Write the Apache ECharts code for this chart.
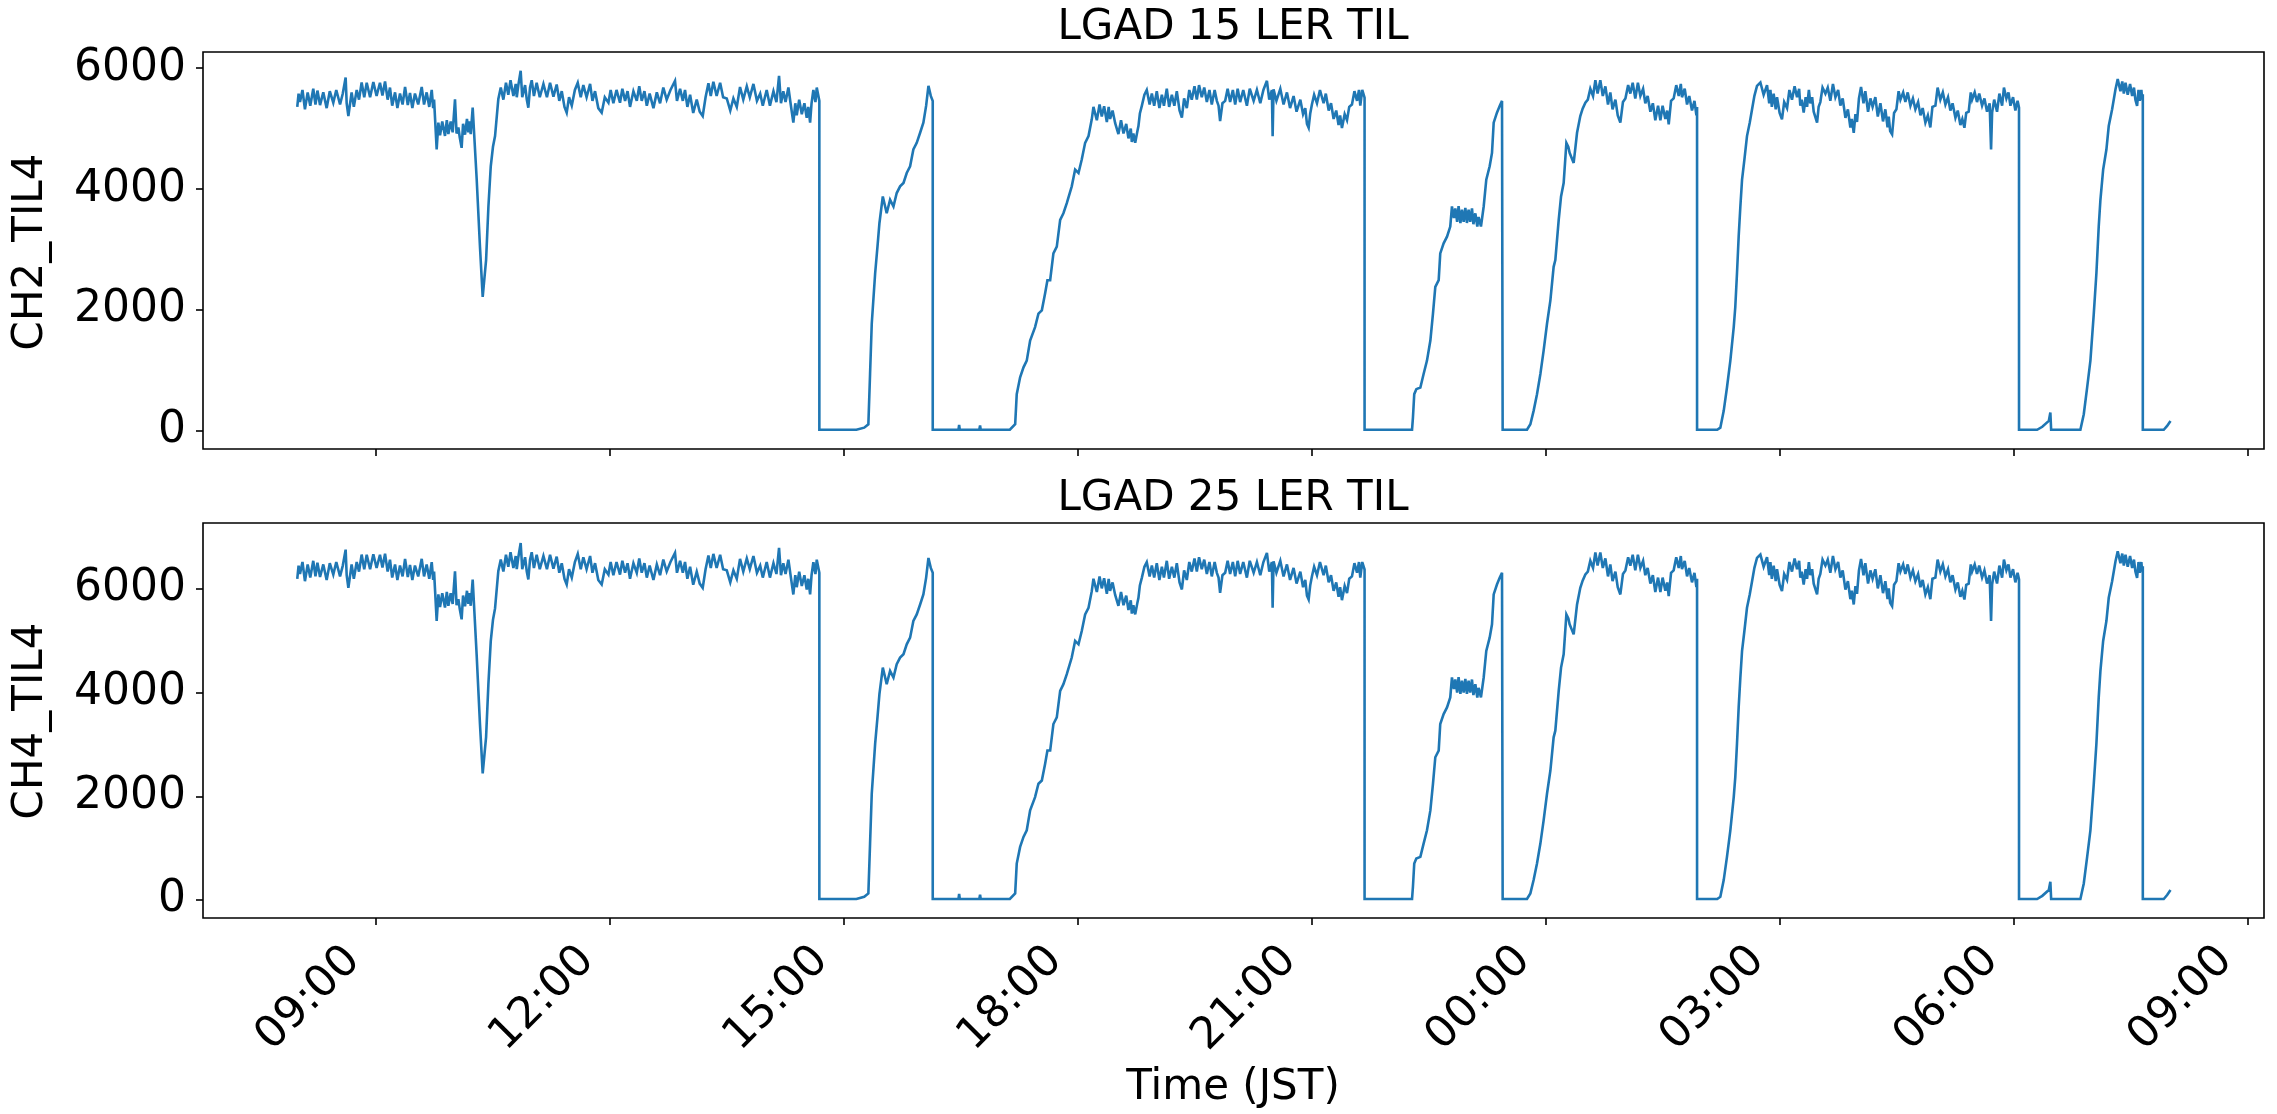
<!DOCTYPE html>
<html>
<head>
<meta charset="utf-8">
<script src="https://cdn.jsdelivr.net/npm/echarts@6/dist/echarts.min.js"></script>
<style>
html,body{margin:0;padding:0;background:#fff;}
#chart{width:2277px;height:1114px;}
</style>
</head>
<body>
<div id="chart"></div>
<script>
// Time in minutes after 08:00 (JST) of the first day
const minutes = [
0,1,2.1,4,5.9,8,10,12.3,14,15.5,
17.5,20,22.6,25,27.7,30,32.9,35,37.2,38,
39.3,41.8,43.5,45.7,47.5,49.5,51.5,53.4,56,58.5,
61,63.6,65.5,67.5,69.5,71.3,73,75.2,77,79,
81,82.9,85,86.7,88.5,90.5,93,95.7,97.5,99.5,
101.5,103.4,104.5,105.2,106,107.2,108.5,109.8,111.5,113.6,
115,116.2,118,119.5,121.3,122.5,123.9,125,126.4,127.5,
129,130.5,131.6,132.5,133.4,134.9,138,140.5,142.6,145.2,
147,148.8,150.5,152.1,154.6,156.5,158.5,160.5,162.3,164,
166.2,168,168.8,170,171.8,173,175.2,176.5,177.7,179,
180.3,182,184.1,186.5,189.3,192,194.4,197,199.5,201.5,
203.4,205.5,207.2,209,211.1,213.5,215.7,218,220,222.5,
225.2,227,229,231.5,234.1,236.5,239.3,241,243.1,245.5,
248.2,250,252.1,254,255.9,258.5,261.1,263,264.9,267,
268.8,271,273.9,276.5,279,281.5,284.1,287,290.5,292,
294.4,296.5,298.2,300,302.1,304.5,307.2,309.5,311.8,314,
316.2,318,320,322.5,325.2,327.5,330.3,333,335.4,338,
340.5,343,345.7,348,350.8,353.5,356,358,361,363.5,
366.2,368.5,370.5,372,373.8,375.5,377.7,379.5,381.5,383,
384.1,386,388,390,391.8,393,394.4,395.5,396.9,398.5,
399.5,401.5,401.5,430,436,439.2,440.5,441.8,444.4,446.2,
447.7,450.3,452.1,453.3,455.9,458.5,461,463.6,466.2,468.7,
471.3,473.8,476.4,479,481.5,483.6,485.4,487.2,488.7,488.7,
508.5,509,509.5,524.5,525.1,525.6,548,552.1,553.3,555.9,
558.5,561,563.6,567.4,570,572.6,575.1,576.9,579,581.5,
584.1,586.7,589.2,591.8,595.6,598.2,600.8,603.3,605.9,608.5,
611,612.3,614.9,617,618.7,620.5,622.6,624,625.1,627,
629,630.5,631.5,633.5,635.4,637.5,639.2,641,641.8,643,
644.4,646,646.9,648,649.5,651.5,653.3,655.5,657.2,659,
661,663,664.9,666.5,668.7,670.5,672.6,674.5,676.4,678.5,
680.3,682,684.1,686,687.9,690,691.8,693.5,695.6,697.5,
699.5,701.5,703.3,705.5,707.2,708.5,709.7,711.5,713.6,715.5,
717.4,719.5,721.3,723.2,725.1,727.5,730.3,732.5,735.5,738,
740.6,743,745.7,747.5,749.5,750.1,750.8,753,756,758.5,
761.1,763.5,766.2,768.5,771.4,773.5,775.2,776.5,777.8,779,
780.3,782,784.2,786.5,789.3,791,793.2,795,797,799,
800.8,802,803.4,805.5,807.3,809,811.1,813,815,816.5,
817.5,819,820.8,820.8,857.3,858,859,860.6,863.7,866.2,
868.8,871.4,873.4,875.2,877.8,879,881.6,884.2,886.7,888,
889.5,890.6,892,893.1,894.5,895.7,897,898.3,899.5,900.8,
902,903.4,904.5,906,907.5,908.5,910.3,912.4,914.4,917,
918.8,920.1,922.6,924.7,926.5,927,927,945.7,948.3,950.8,
953.4,956,958.5,961.1,963.7,966.2,967.5,970.1,971.9,973.9,
976,977.5,978.5,980,981.6,983,984.2,986.7,988.5,990.6,
992.5,994.4,996.5,998.3,1000,1002.1,1004,1006,1008,1009.8,
1011.5,1013.7,1015.5,1017.5,1019.5,1021.4,1023.5,1025.2,1027,1029,
1031,1032.9,1035,1036.7,1038.5,1040.6,1042.5,1044.4,1046.5,1048.3,
1050,1052.1,1053.5,1054.7,1056.5,1058.5,1060.5,1062.4,1064,1064.9,
1067,1068.8,1070.5,1072.6,1074.5,1076,1076.5,1076.5,1092,1094.4,
1097,1099.5,1102.1,1104.7,1105.9,1107.2,1108.5,1109.8,1111.1,1112.9,
1114.9,1117,1118.8,1120.6,1122.6,1125.2,1127.7,1130.3,1132,1132.9,
1134,1135.4,1137,1138,1140,1141.8,1143.5,1145.7,1147.5,1149.5,
1151.5,1153.4,1155,1155.9,1157,1158.5,1160,1161.1,1162.5,1163.6,
1165,1166.2,1167.5,1168.8,1170,1171.3,1173,1175.2,1177,1179,
1181,1182.9,1185,1186.7,1188.5,1190.6,1192.5,1194.4,1195.5,1197,
1198.3,1199.5,1201,1202.6,1204.5,1205.9,1208,1209.8,1211.5,1213.6,
1215.5,1217.5,1219.5,1221.3,1223,1223.9,1225,1226.5,1228,1229.8,
1231.5,1232.9,1235,1236.7,1238.5,1240.6,1242.5,1244.4,1246.5,1248.3,
1250,1252.1,1254,1255.9,1257.5,1259.8,1261.5,1263.6,1265.5,1267.5,
1269.5,1271.3,1273,1275.2,1277,1279,1280.5,1282.1,1283.5,1285.4,
1287,1288,1290,1291.8,1293.5,1295.7,1297.5,1299.5,1301.5,1302.6,
1303.4,1305,1307.2,1309,1311.1,1312.5,1314.4,1316,1317.5,1319.5,
1321.3,1323,1324.1,1324.1,1338,1342,1347,1348.2,1348.8,1371.3,
1373.9,1376.5,1379,1381.6,1383.6,1385.4,1386.7,1388.8,1391.3,1393.1,
1395.7,1398.3,1400,1402.1,1403.5,1404.7,1406,1407.7,1409.5,1411.1,
1412.5,1413.6,1414.9,1416,1417,1418.2,1418.8,1419.3,1419.3,1435.4,
1438,1440.6
];

// LGAD 15 LER TIL : CH2_TIL4
const ch2 = [
5360,5580,5440,5640,5320,5600,5380,5660,5400,5630,
5390,5600,5340,5620,5430,5640,5400,5580,5847,5420,
5209,5600,5360,5640,5480,5764,5520,5760,5520,5770,
5540,5760,5550,5780,5480,5680,5380,5600,5340,5580,
5400,5690,5390,5590,5340,5580,5400,5690,5400,5600,
5360,5640,5340,5480,5154,4655,5100,4890,5120,4880,
5140,4910,5120,4940,5486,4920,5020,4850,4683,5080,
4900,5160,4940,5120,4910,5348,4156,3048,2217,2826,
3713,4378,4700,4877,5486,5680,5480,5760,5560,5800,
5540,5740,5520,5720,5957,5520,5720,5480,5348,5680,
5800,5540,5760,5520,5740,5520,5760,5530,5730,5460,
5620,5360,5265,5520,5380,5640,5760,5520,5720,5520,
5740,5460,5620,5340,5265,5520,5430,5640,5420,5640,
5430,5660,5460,5620,5360,5620,5460,5700,5460,5620,
5380,5580,5340,5600,5420,5680,5480,5640,5791,5460,
5660,5460,5640,5360,5560,5260,5480,5280,5209,5520,
5750,5540,5776,5540,5760,5520,5500,5300,5500,5360,
5690,5480,5700,5520,5740,5460,5580,5380,5640,5380,
5620,5440,5874,5420,5620,5440,5680,5400,5099,5420,
5220,5480,5240,5420,5180,5360,5099,5420,5640,5440,
5680,5459,20,20,55,111,942,1773,2605,3048,
3436,3879,3713,3602,3824,3713,3935,4046,4101,4267,
4378,4655,4766,4932,5099,5376,5708,5542,5459,20,
20,100,20,20,90,20,20,111,609,887,
1053,1164,1496,1718,1940,1995,2272,2494,2494,2937,
3048,3491,3602,3768,4046,4323,4267,4489,4766,4877,
5154,5360,5140,5400,5200,5370,5110,5360,5160,5300,
5090,5080,4910,5140,4920,5080,4840,5000,4780,4920,
4766,4950,5043,5250,5376,5560,5640,5400,5580,5380,
5620,5340,5560,5380,5660,5360,5560,5380,5620,5300,
5182,5500,5340,5640,5480,5700,5480,5720,5520,5680,
5440,5640,5400,5640,5460,5380,5126,5420,5460,5660,
5440,5640,5400,5660,5440,5640,5380,5660,5460,5640,
5420,5640,5791,5480,5640,4877,5653,5460,5660,5400,
5600,5340,5540,5280,5480,5240,5340,5080,5015,5250,
5400,5560,5420,5640,5420,5580,5300,5420,5160,5300,
5060,5220,5010,5240,5140,5360,5400,5620,5460,5640,
5380,5640,5514,20,20,222,609,692,720,942,
1164,1496,1940,2383,2494,2937,3103,3214,3381,3713,
3520,3680,3460,3720,3440,3660,3460,3690,3440,3660,
3460,3680,3420,3600,3380,3540,3381,3713,4156,4378,
4600,5099,5265,5376,5459,5459,20,20,111,333,
609,942,1330,1773,2161,2715,2826,3491,3879,4101,
4766,4700,4600,4520,4433,4700,4932,5209,5330,5431,
5480,5660,5540,5800,5580,5800,5540,5700,5400,5600,
5320,5480,5220,5099,5440,5500,5720,5580,5760,5500,
5760,5540,5660,5420,5540,5280,5420,5140,5380,5140,
5380,5160,5300,5071,5460,5500,5720,5540,5740,5520,
5660,5400,5540,5300,5460,5220,5360,20,20,55,
333,720,1164,1718,2050,2605,3214,3713,4156,4489,
4877,5099,5320,5542,5708,5764,5560,5720,5420,5640,
5360,5580,5320,5520,5260,5154,5440,5340,5640,5480,
5700,5520,5660,5380,5480,5265,5520,5360,5640,5420,
5520,5280,5260,5099,5360,5440,5680,5580,5680,5460,
5740,5520,5640,5380,5500,5180,5320,5020,5160,4932,
5240,5110,5500,5690,5420,5620,5280,5500,5360,5520,
5200,5420,5120,5320,5020,5200,4960,4905,5260,5320,
5620,5480,5600,5440,5600,5380,5500,5320,5440,5220,
5340,5100,5220,5020,5360,5380,5680,5480,5600,5400,
5520,5300,5420,5180,5300,5060,5160,5015,5260,5280,
5600,5480,5600,5440,5580,5380,5500,5280,5420,4655,
5265,5480,5280,5580,5380,5680,5500,5600,5380,5520,
5300,5460,5348,20,20,70,166,305,20,20,
277,720,1164,1940,2605,3381,3824,4323,4655,5043,
5320,5653,5819,5620,5780,5580,5760,5560,5740,5540,
5680,5480,5376,5640,5460,5640,5480,5570,20,20,
83,166
];

// LGAD 25 LER TIL : CH4_TIL4
const ch4 = [
6191,6445,6283,6514,6145,6468,6214,6537,6237,6502,
6226,6468,6168,6491,6272,6514,6237,6445,6753,6260,
6016,6468,6191,6514,6330,6657,6376,6653,6376,6664,
6399,6653,6410,6676,6330,6560,6214,6468,6168,6445,
6237,6575,6226,6456,6168,6445,6237,6575,6237,6468,
6191,6511,6168,6329,5953,5377,5890,5648,5913,5637,
5937,5671,5913,5706,6336,5683,5798,5602,5409,5867,
5660,5960,5706,5913,5671,6177,4700,3390,2440,3140,
4170,4990,5400,5620,6336,6560,6330,6653,6422,6703,
6399,6630,6376,6607,6880,6376,6606,6329,6177,6560,
6703,6399,6653,6376,6630,6376,6653,6387,6618,6307,
6491,6191,6081,6375,6214,6514,6671,6376,6606,6376,
6630,6307,6491,6168,6081,6375,6272,6514,6260,6514,
6272,6537,6307,6491,6191,6491,6307,6583,6307,6491,
6214,6445,6168,6468,6260,6560,6330,6514,6689,6307,
6537,6307,6514,6191,6422,6076,6329,6098,6016,6376,
6639,6399,6671,6399,6653,6376,6353,6122,6352,6191,
6575,6330,6583,6376,6630,6307,6445,6214,6514,6214,
6491,6283,6785,6260,6491,6283,6560,6237,5889,6260,
6029,6329,6052,6260,5983,6191,5889,6260,6511,6283,
6560,6305,20,20,64,128,1088,2048,3009,3520,
3969,4480,4289,4160,4417,4289,4545,4673,4737,4928,
5057,5377,5505,5696,5889,6209,6593,6401,6305,20,
20,116,20,20,104,20,20,128,703,1024,
1216,1344,1728,1984,2241,2304,2624,2881,2881,3392,
3520,4032,4160,4352,4673,4993,4928,5185,5505,5633,
5953,6191,5937,6237,6006,6202,5902,6191,5960,6121,
5879,5867,5671,5937,5683,5867,5590,5775,5521,5682,
5505,5717,5825,6064,6209,6422,6511,6237,6445,6214,
6491,6168,6422,6214,6537,6191,6422,6214,6491,6122,
5985,6352,6168,6514,6330,6583,6330,6606,6376,6560,
6283,6514,6237,6514,6306,6214,5921,6260,6306,6537,
6283,6514,6237,6537,6283,6514,6214,6537,6307,6514,
6260,6514,6689,6330,6514,5633,6529,6307,6537,6237,
6468,6168,6399,6099,6329,6029,6168,5867,5792,6064,
6237,6422,6260,6514,6260,6445,6122,6260,5960,6121,
5845,6029,5779,6052,5914,6191,6237,6491,6307,6514,
6214,6514,6369,20,20,256,703,799,832,1088,
1344,1728,2241,2752,2881,3392,3584,3712,3905,4289,
4066,4250,3997,4296,3973,4227,3997,4262,3973,4227,
3997,4250,3950,4158,3904,4089,3905,4289,4800,5057,
5313,5889,6081,6209,6305,6305,20,20,128,385,
703,1088,1536,2048,2496,3136,3264,4032,4480,4737,
5505,5429,5313,5221,5120,5429,5696,6016,6156,6273,
6329,6537,6399,6699,6445,6699,6399,6583,6237,6468,
6145,6329,6029,5889,6283,6353,6606,6445,6653,6353,
6653,6399,6537,6260,6399,6099,6260,5937,6214,5937,
6214,5960,6121,5857,6306,6353,6606,6399,6630,6376,
6537,6237,6399,6122,6306,6029,6191,20,20,64,
385,832,1344,1984,2368,3009,3712,4289,4800,5185,
5633,5889,6145,6401,6593,6657,6422,6606,6260,6514,
6191,6445,6145,6375,6075,5953,6283,6168,6514,6330,
6583,6376,6537,6214,6329,6081,6375,6191,6514,6260,
6375,6098,6075,5889,6191,6283,6560,6445,6560,6307,
6630,6376,6514,6214,6352,5983,6144,5798,5960,5696,
6052,5902,6353,6575,6260,6491,6099,6352,6191,6375,
6006,6260,5914,6144,5798,6006,5729,5665,6075,6145,
6491,6330,6468,6283,6468,6214,6352,6145,6283,6029,
6168,5891,6029,5798,6191,6214,6560,6330,6468,6237,
6375,6122,6260,5983,6121,5845,5960,5792,6075,6098,
6468,6330,6468,6283,6445,6214,6352,6099,6260,5377,
6081,6329,6099,6445,6214,6560,6353,6468,6214,6375,
6122,6306,6177,20,20,81,192,352,20,20,
320,832,1344,2241,3009,3905,4417,4993,5377,5825,
6145,6529,6721,6491,6676,6445,6653,6422,6630,6399,
6560,6329,6209,6514,6307,6514,6330,6433,20,20,
96,192
];

// X ticks (minutes after 08:00) and their labels
const tickMinutes = [60, 240, 420, 600, 780, 960, 1140, 1320, 1500];
const tickLabels = ['09:00', '12:00', '15:00', '18:00', '21:00', '00:00', '03:00', '06:00', '09:00'];
const yTicksTop = [0, 2000, 4000, 6000];
const yTicksBottom = [0, 2000, 4000, 6000];
const titles = ['LGAD 15 LER TIL', 'LGAD 25 LER TIL'];
const yNames = ['CH2_TIL4', 'CH4_TIL4'];
const xName = 'Time (JST)';

const FONT = 'DejaVu Sans';
const chart = echarts.init(document.getElementById('chart'), null, {renderer: 'canvas', width: 2277, height: 1114});

const tickStyle = {show: true, length: 7, lineStyle: {color: '#000', width: 1.6}};
function xAxisCfg(gridIndex, showLabels) {
  return {
    type: 'value', gridIndex: gridIndex, min: -72.5, max: 1512.5,
    axisLine: {show: false, onZero: false},
    splitLine: {show: false},
    axisTick: Object.assign({customValues: tickMinutes}, tickStyle),
    axisLabel: {
      show: showLabels, customValues: tickMinutes, rotate: 45, margin: 14,
      padding: [0, 31, 0, 0],
      fontFamily: FONT, fontSize: 44, color: '#000',
      formatter: function (v) { const i = tickMinutes.indexOf(v); return i >= 0 ? tickLabels[i] : ''; }
    }
  };
}
function yAxisCfg(gridIndex, min, max, ticks) {
  return {
    type: 'value', gridIndex: gridIndex, min: min, max: max,
    axisLine: {show: false, onZero: false},
    splitLine: {show: false},
    axisTick: Object.assign({customValues: ticks}, tickStyle),
    axisLabel: {
      customValues: ticks, margin: 17, fontFamily: FONT, fontSize: 44, color: '#000',
      formatter: function (v) { return String(v); }
    }
  };
}
function lineSeries(idx, values) {
  return {
    type: 'line', xAxisIndex: idx, yAxisIndex: idx,
    data: minutes.map(function (m, i) { return [m, values[i]]; }),
    symbol: 'none', showSymbol: false,
    lineStyle: {color: '#1f77b4', width: 2.6, join: 'miter', miterLimit: 4},
    itemStyle: {color: '#1f77b4'},
    clip: true, silent: true
  };
}

const textStyleBase = {fontFamily: FONT, fontSize: 42, fill: '#000', textAlign: 'center', textVerticalAlign: 'middle'};

chart.setOption({
  animation: false,
  backgroundColor: '#fff',
  grid: [
    {left: 203, right: 13, top: 52, height: 397, show: true, borderColor: '#000', borderWidth: 1.6, backgroundColor: 'transparent'},
    {left: 203, right: 13, top: 523, height: 395, show: true, borderColor: '#000', borderWidth: 1.6, backgroundColor: 'transparent'}
  ],
  xAxis: [xAxisCfg(0, false), xAxisCfg(1, true)],
  yAxis: [yAxisCfg(0, -298, 6268, yTicksTop), yAxisCfg(1, -346, 7266, yTicksBottom)],
  series: [lineSeries(0, ch2), lineSeries(1, ch4)],
  graphic: [
    {type: 'text', x: 1233, y: 28, style: Object.assign({text: titles[0]}, textStyleBase)},
    {type: 'text', x: 1233, y: 499, style: Object.assign({text: titles[1]}, textStyleBase)},
    {type: 'text', x: 31, y: 252, rotation: Math.PI / 2, style: Object.assign({text: yNames[0]}, textStyleBase)},
    {type: 'text', x: 31, y: 721, rotation: Math.PI / 2, style: Object.assign({text: yNames[1]}, textStyleBase)},
    {type: 'text', x: 1233, y: 1088, style: Object.assign({text: xName}, textStyleBase)}
  ]
});
</script>
</body>
</html>
